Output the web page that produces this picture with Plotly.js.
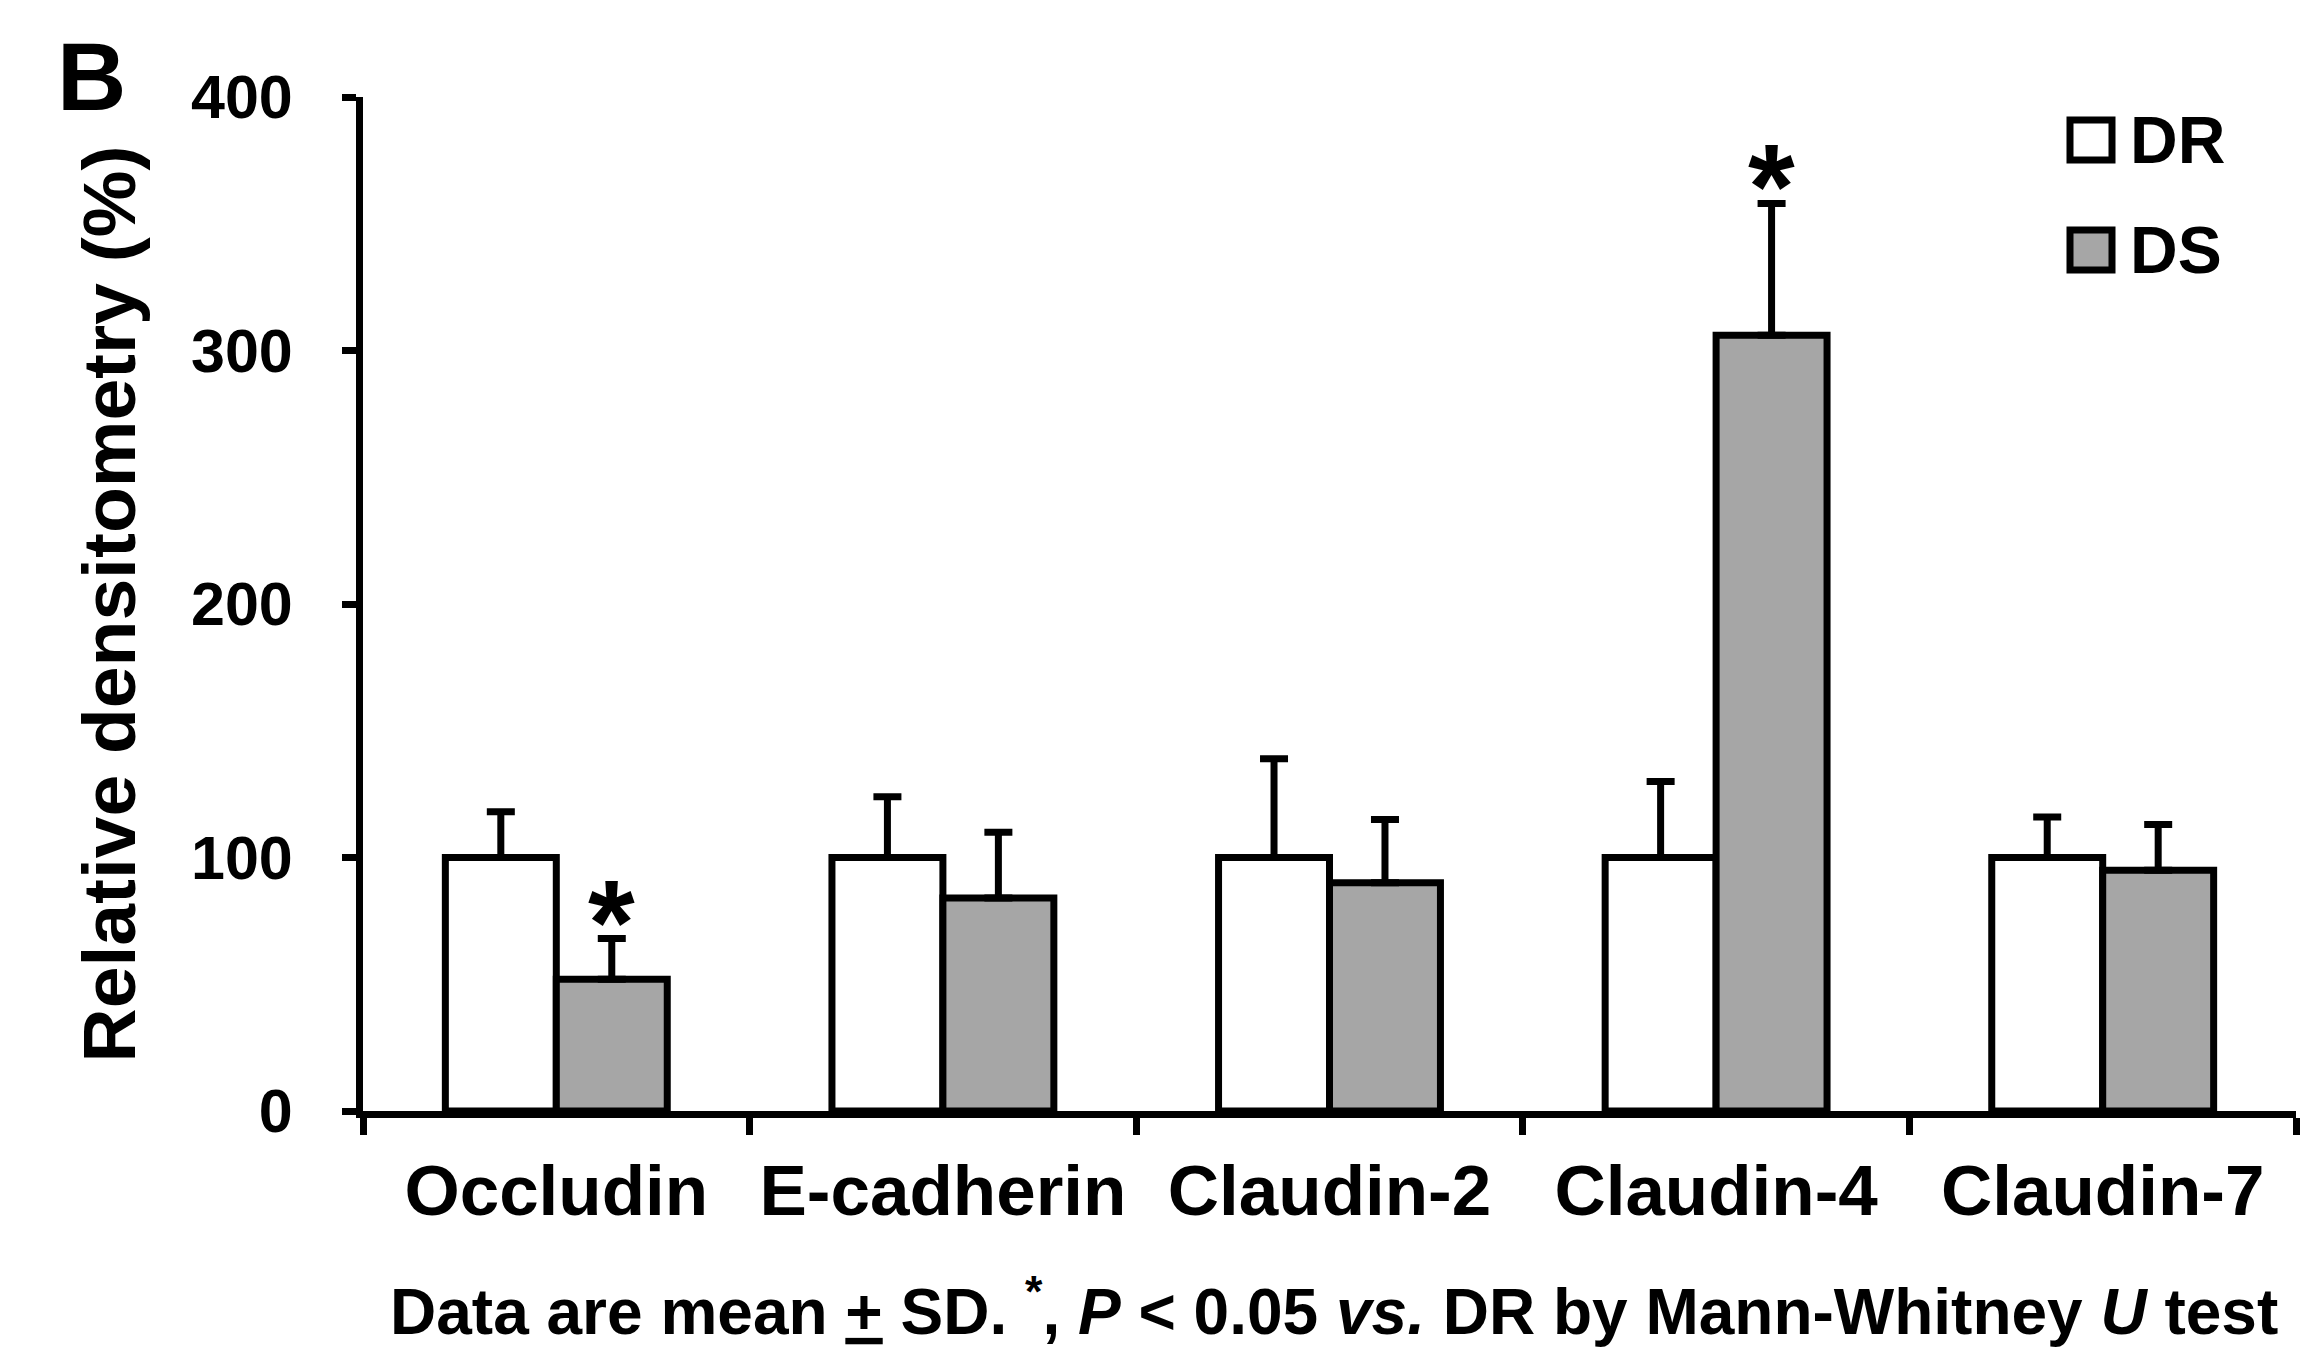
<!DOCTYPE html>
<html>
<head>
<meta charset="utf-8">
<script src="https://cdn.plot.ly/plotly-3.0.1.min.js"></script>
<style>
  html, body { margin: 0; padding: 0; background: #ffffff; }
  #chart { width: 2322px; height: 1349px; }
</style>
</head>
<body>
<div id="chart"></div>
<script>
// ---- data ----
const categories   = ['Occludin', 'E-cadherin', 'Claudin-2', 'Claudin-4', 'Claudin-7'];
const seriesNames  = ['DR', 'DS'];
const drValues     = [100, 100, 100, 100, 100];
const drErrors     = [18, 24, 39, 30, 16];
const dsValues     = [52, 84, 90, 306, 95];
const dsErrors     = [16, 26, 25, 52, 18];
const significant  = [true, false, false, true, false];
const yTickValues  = [0, 100, 200, 300, 400];
const footnoteText = 'Data are mean <u>+</u> SD. <sup>*</sup>, <i>P</i> &lt; 0.05 <i>vs.</i> DR by Mann-Whitney <i>U</i> test';
const panelLabel   = 'B';

// ---- style / layout ----
const W = 2322, H = 1349;
const M = { l: 363, r: 26, t: 97, b: 238 };
const FONT = '"Liberation Sans", Arial, Helvetica, sans-serif';
const BARGAP = 0.426;
const fills = ['#ffffff', '#a6a6a6'];
const LINE = 7;

const plotW = W - M.l - M.r, plotH = H - M.t - M.b;
const px2x = px => (px - M.l) / plotW;
const py2y = py => (H - M.b - py) / plotH;

const zeros = drValues.map(() => 0);

function barTrace(name, values, errors, fill) {
  return {
    type: 'bar', name: name, x: categories, y: values,
    marker: { color: fill, line: { color: '#000000', width: LINE } },
    error_y: { type: 'data', symmetric: false, array: errors, arrayminus: zeros,
               color: '#000000', thickness: LINE, width: 14 },
    showlegend: false, hoverinfo: 'x+y'
  };
}

const traces = [
  barTrace(seriesNames[0], drValues, drErrors, fills[0]),
  barTrace(seriesNames[1], dsValues, dsErrors, fills[1])
];

const annotations = [];
const shapes = [];

// significance stars above DS bars
const dsOffset = (1 - BARGAP) / 4;
categories.forEach((c, i) => {
  if (significant[i]) {
    annotations.push({
      xref: 'x', yref: 'y', x: i + dsOffset, y: dsValues[i] + dsErrors[i],
      text: '*', showarrow: false, xanchor: 'center', yanchor: 'bottom', yshift: -52,
      font: { family: FONT, size: 120, color: '#000000', weight: 'bold' }
    });
  }
});

// panel label
annotations.push({
  xref: 'paper', yref: 'paper', x: px2x(91), y: py2y(76), text: panelLabel,
  showarrow: false, xanchor: 'center', yanchor: 'middle',
  font: { family: FONT, size: 96, color: '#000000', weight: 'bold' }
});

// footnote
annotations.push({
  xref: 'paper', yref: 'paper', x: px2x(1334), y: py2y(1307), text: footnoteText,
  showarrow: false, xanchor: 'center', yanchor: 'middle',
  font: { family: FONT, size: 64, color: '#000000', weight: 'bold' }
});

// legend (drawn as swatches + labels)
const legendRows = [140, 250];
seriesNames.forEach((name, k) => {
  const cy = legendRows[k];
  shapes.push({
    type: 'rect', xref: 'paper', yref: 'paper',
    x0: px2x(2070), x1: px2x(2112), y0: py2y(cy + 20), y1: py2y(cy - 20),
    fillcolor: fills[k], line: { color: '#000000', width: LINE }
  });
  annotations.push({
    xref: 'paper', yref: 'paper', x: px2x(2128), y: py2y(cy), text: name,
    showarrow: false, xanchor: 'left', yanchor: 'middle',
    font: { family: FONT, size: 66, color: '#000000', weight: 'bold' }
  });
});

const layout = {
  width: W, height: H,
  margin: M,
  paper_bgcolor: '#ffffff', plot_bgcolor: '#ffffff',
  font: { family: FONT, color: '#000000' },
  barmode: 'group', bargap: BARGAP, bargroupgap: 0,
  xaxis: {
    type: 'category', range: [-0.5, categories.length - 0.5],
    showline: true, linecolor: '#000000', linewidth: LINE,
    ticks: 'outside', tickson: 'boundaries', ticklen: 17, tickwidth: LINE, tickcolor: '#000000',
    tickangle: 0,
    tickfont: { family: FONT, size: 71, color: '#000000', weight: 'bold' },
    ticklabelstandoff: 12,
    showgrid: false, zeroline: false, fixedrange: true
  },
  yaxis: {
    range: [0, 400], tickvals: yTickValues,
    showline: true, linecolor: '#000000', linewidth: LINE,
    ticks: 'outside', ticklen: 14, tickwidth: LINE, tickcolor: '#000000',
    tickfont: { family: FONT, size: 61, color: '#000000', weight: 'bold' },
    ticklabelstandoff: 37,
    showgrid: false, zeroline: false, fixedrange: true,
    title: { text: 'Relative densitometry (%)', standoff: 33,
             font: { family: FONT, size: 75, color: '#000000', weight: 'bold' } }
  },
  showlegend: false,
  annotations: annotations,
  shapes: shapes
};

Plotly.newPlot('chart', traces, layout, { displayModeBar: false, staticPlot: true });
</script>
</body>
</html>
